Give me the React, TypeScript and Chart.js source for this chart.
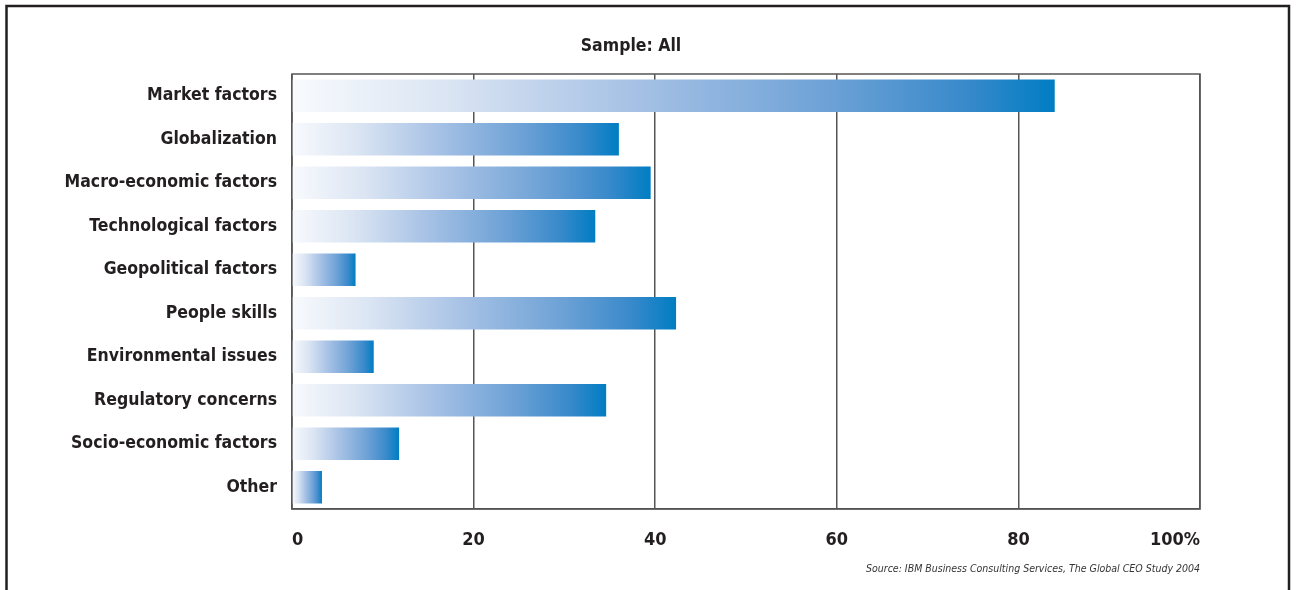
import React, { useEffect, useRef } from "react";
import { Chart, registerables } from "chart.js";

Chart.register(...registerables);

const categories = [
  "Market factors",
  "Globalization",
  "Macro-economic factors",
  "Technological factors",
  "Geopolitical factors",
  "People skills",
  "Environmental issues",
  "Regulatory concerns",
  "Socio-economic factors",
  "Other",
];
const values = [84, 36, 39.5, 33.4, 7, 42.3, 9, 34.6, 11.8, 3.3];
const xTicks = [0, 20, 40, 60, 80, 100];
const title = "Sample: All";
const source = "Source: IBM Business Consulting Services, The Global CEO Study 2004";

const FONT = "'Liberation Sans Narrow', 'Arial Narrow', 'DejaVu Sans Condensed', sans-serif";
const TEXT = "#231f20";

const decorPlugin = {
  id: "decor",
  beforeDraw(chart: any) {
    const { ctx, width, height } = chart;
    ctx.save();
    ctx.fillStyle = "#fff";
    ctx.fillRect(0, 0, width, height);
    ctx.strokeStyle = "#231f20";
    ctx.lineWidth = 2.5;
    ctx.beginPath();
    ctx.moveTo(6.5, height + 5);
    ctx.lineTo(6.5, 6);
    ctx.lineTo(1289, 6);
    ctx.lineTo(1289, height + 5);
    ctx.stroke();
    ctx.restore();
  },
  beforeDatasetsDraw(chart: any) {
    const { ctx, chartArea } = chart;
    ctx.save();
    ctx.strokeStyle = "#555";
    ctx.lineWidth = 1.5;
    ctx.strokeRect(chartArea.left, chartArea.top, chartArea.right - chartArea.left, chartArea.bottom - chartArea.top);
    ctx.restore();
  },
  afterDraw(chart: any) {
    const { ctx, chartArea } = chart;
    ctx.save();
    ctx.fillStyle = TEXT;
    ctx.textBaseline = "middle";
    ctx.textAlign = "center";
    ctx.font = `bold 17.5px ${FONT}`;
    ctx.fillText(title, 631, 46);
    ctx.font = `italic 10.5px ${FONT}`;
    ctx.fillStyle = "#333";
    ctx.textAlign = "right";
    ctx.fillText(source, chartArea.right, 569);
    ctx.restore();
  },
};

export default function App() {
  const ref = useRef<HTMLCanvasElement>(null);
  useEffect(() => {
    if (!ref.current) return;
    const chart = new Chart(ref.current, {
      type: "bar",
      data: {
        labels: categories,
        datasets: [
          {
            data: values,
            borderWidth: 0,
            barPercentage: 0.75,
            categoryPercentage: 1,
            backgroundColor: (c: any) => {
              const ch = c.chart;
              if (!ch.chartArea || c.raw == null) return "#007dc3";
              const xs = ch.scales.x;
              const x0 = xs.getPixelForValue(0);
              const x1 = xs.getPixelForValue(c.raw);
              const g = ch.ctx.createLinearGradient(x0, 0, x1, 0);
              g.addColorStop(0, "#f8fafd");
              g.addColorStop(0.2, "#dbe5f3");
              g.addColorStop(0.45, "#a6c1e5");
              g.addColorStop(0.7, "#6ea2d6");
              g.addColorStop(0.88, "#3a8acb");
              g.addColorStop(1, "#007dc3");
              return g;
            },
          },
        ],
      },
      options: {
        indexAxis: "y",
        animation: false,
        responsive: false,
        maintainAspectRatio: false,
        layout: { padding: { left: 0, top: 74, right: 96, bottom: 0 } },
        plugins: { legend: { display: false }, tooltip: { enabled: false } },
        scales: {
          x: {
            min: 0,
            max: 100,
            afterBuildTicks: (s: any) => {
              s.ticks = xTicks.map((v) => ({ value: v }));
            },
            afterFit: (s: any) => {
              s.height = 81;
            },
            grid: { color: "#555", lineWidth: 1.5, drawTicks: false },
            border: { display: true, color: "#555", width: 1.5 },
            ticks: {
              align: "inner",
              padding: 21,
              color: TEXT,
              font: { family: FONT, size: 18, weight: "bold" },
              callback: (v: any) => (v === 100 ? "100%" : String(v)),
            },
          },
          y: {
            afterFit: (s: any) => {
              s.width = 292;
            },
            grid: { display: false, drawTicks: false },
            border: { display: false },
            ticks: {
              padding: 15,
              color: TEXT,
              font: { family: FONT, size: 17.5, weight: "bold" },
            },
          },
        },
      },
      plugins: [decorPlugin],
    } as any);
    return () => chart.destroy();
  }, []);
  return (
    <div style={{ position: "fixed", left: 0, top: 0, width: 1296, height: 590, background: "#fff" }}>
      <canvas ref={ref} width={1296} height={590} style={{ display: "block", width: 1296, height: 590 }} />
    </div>
  );
}
